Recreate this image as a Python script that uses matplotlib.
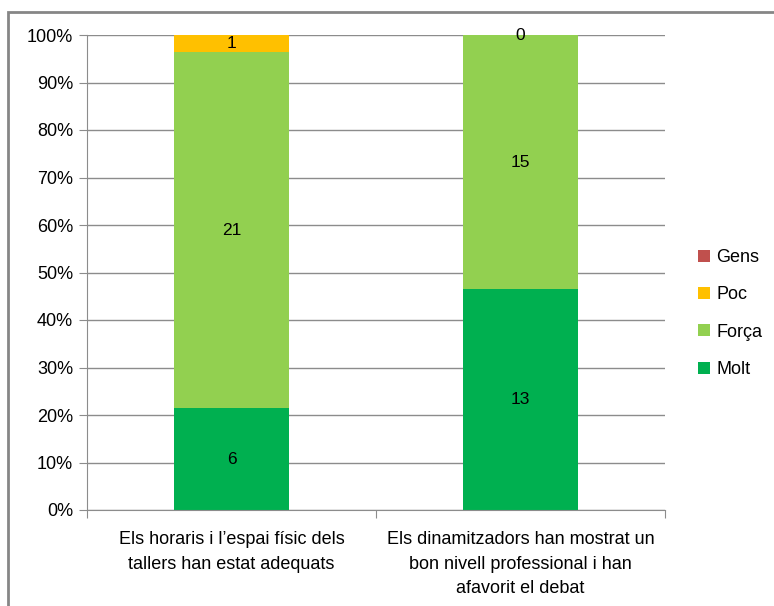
import matplotlib
matplotlib.use('Agg')
import matplotlib.pyplot as plt
from matplotlib.patches import Rectangle
import numpy as np

plt.rcParams['font.family'] = ['Liberation Sans', 'DejaVu Sans']

categories = ['Els horaris i l\u2019espai físic dels\ntallers han estat adequats',
              'Els dinamitzadors han mostrat un\nbon nivell professional i han\nafavorit el debat']
molt = [6, 13]
forca = [21, 15]
poc = [1, 0]
gens = [0, 0]

series = [('Molt', molt, '#00B050'), ('Força', forca, '#92D050'),
          ('Poc', poc, '#FFC000'), ('Gens', gens, '#C0504D')]

totals = np.array(molt) + np.array(forca) + np.array(poc) + np.array(gens)

fig = plt.figure(figsize=(7.74, 6.06), dpi=100)
ax = fig.add_axes([87/774, 1-510/606, (665-87)/774, (510-35)/606])

x = np.arange(len(categories))
bottom = np.zeros(len(categories))
handles = {}
for name, vals, col in series:
	pct = np.array(vals) / totals * 100
	b = ax.bar(x, pct, width=0.4, bottom=bottom, color=col, label=name, zorder=2)
	handles[name] = b
	if name != 'Gens':
		for i in range(len(x)):
			ax.text(x[i], bottom[i] + pct[i] / 2, str(vals[i]), ha='center', va='center',
					fontsize=12.5, color='black', zorder=3)
	bottom = bottom + pct

ax.set_xlim(-0.5, 1.5)
ax.set_ylim(0, 100)
ax.set_yticks(np.arange(0, 101, 10))
ax.set_yticklabels(['{}%'.format(v) for v in range(0, 101, 10)], fontsize=13)
ax.yaxis.grid(True, color='#8c8c8c', linewidth=1, zorder=0)
ax.set_axisbelow(True)

ax.set_xticks([-0.5, 0.5, 1.5])
ax.set_xticklabels([])
ax.set_xticks(x, minor=True)
ax.set_xticklabels(categories, minor=True, fontsize=13, linespacing=1.6, va='top')
ax.tick_params(axis='x', which='minor', length=0, pad=15)
ax.tick_params(axis='x', which='major', length=6, color='#8c8c8c')
ax.tick_params(axis='y', length=6, color='#8c8c8c', pad=4)

for s in ['top', 'right']:
	ax.spines[s].set_visible(False)
ax.spines['left'].set_color('#8c8c8c')
ax.spines['bottom'].set_color('#8c8c8c')

order = ['Gens', 'Poc', 'Força', 'Molt']
leg = fig.legend([handles[n] for n in order], order, loc='upper left',
				 bbox_to_anchor=(682/774, 1-233/606), frameon=False, fontsize=13,
				 handlelength=0.65, handleheight=0.65, labelspacing=1.12, handletextpad=0.35)

fig.patches.append(Rectangle((8/774, -0.1), 1.2, 1.1 - 12/606, transform=fig.transFigure,
							 fill=False, edgecolor='#868686', linewidth=2))

fig.savefig('out.png', dpi=100)
